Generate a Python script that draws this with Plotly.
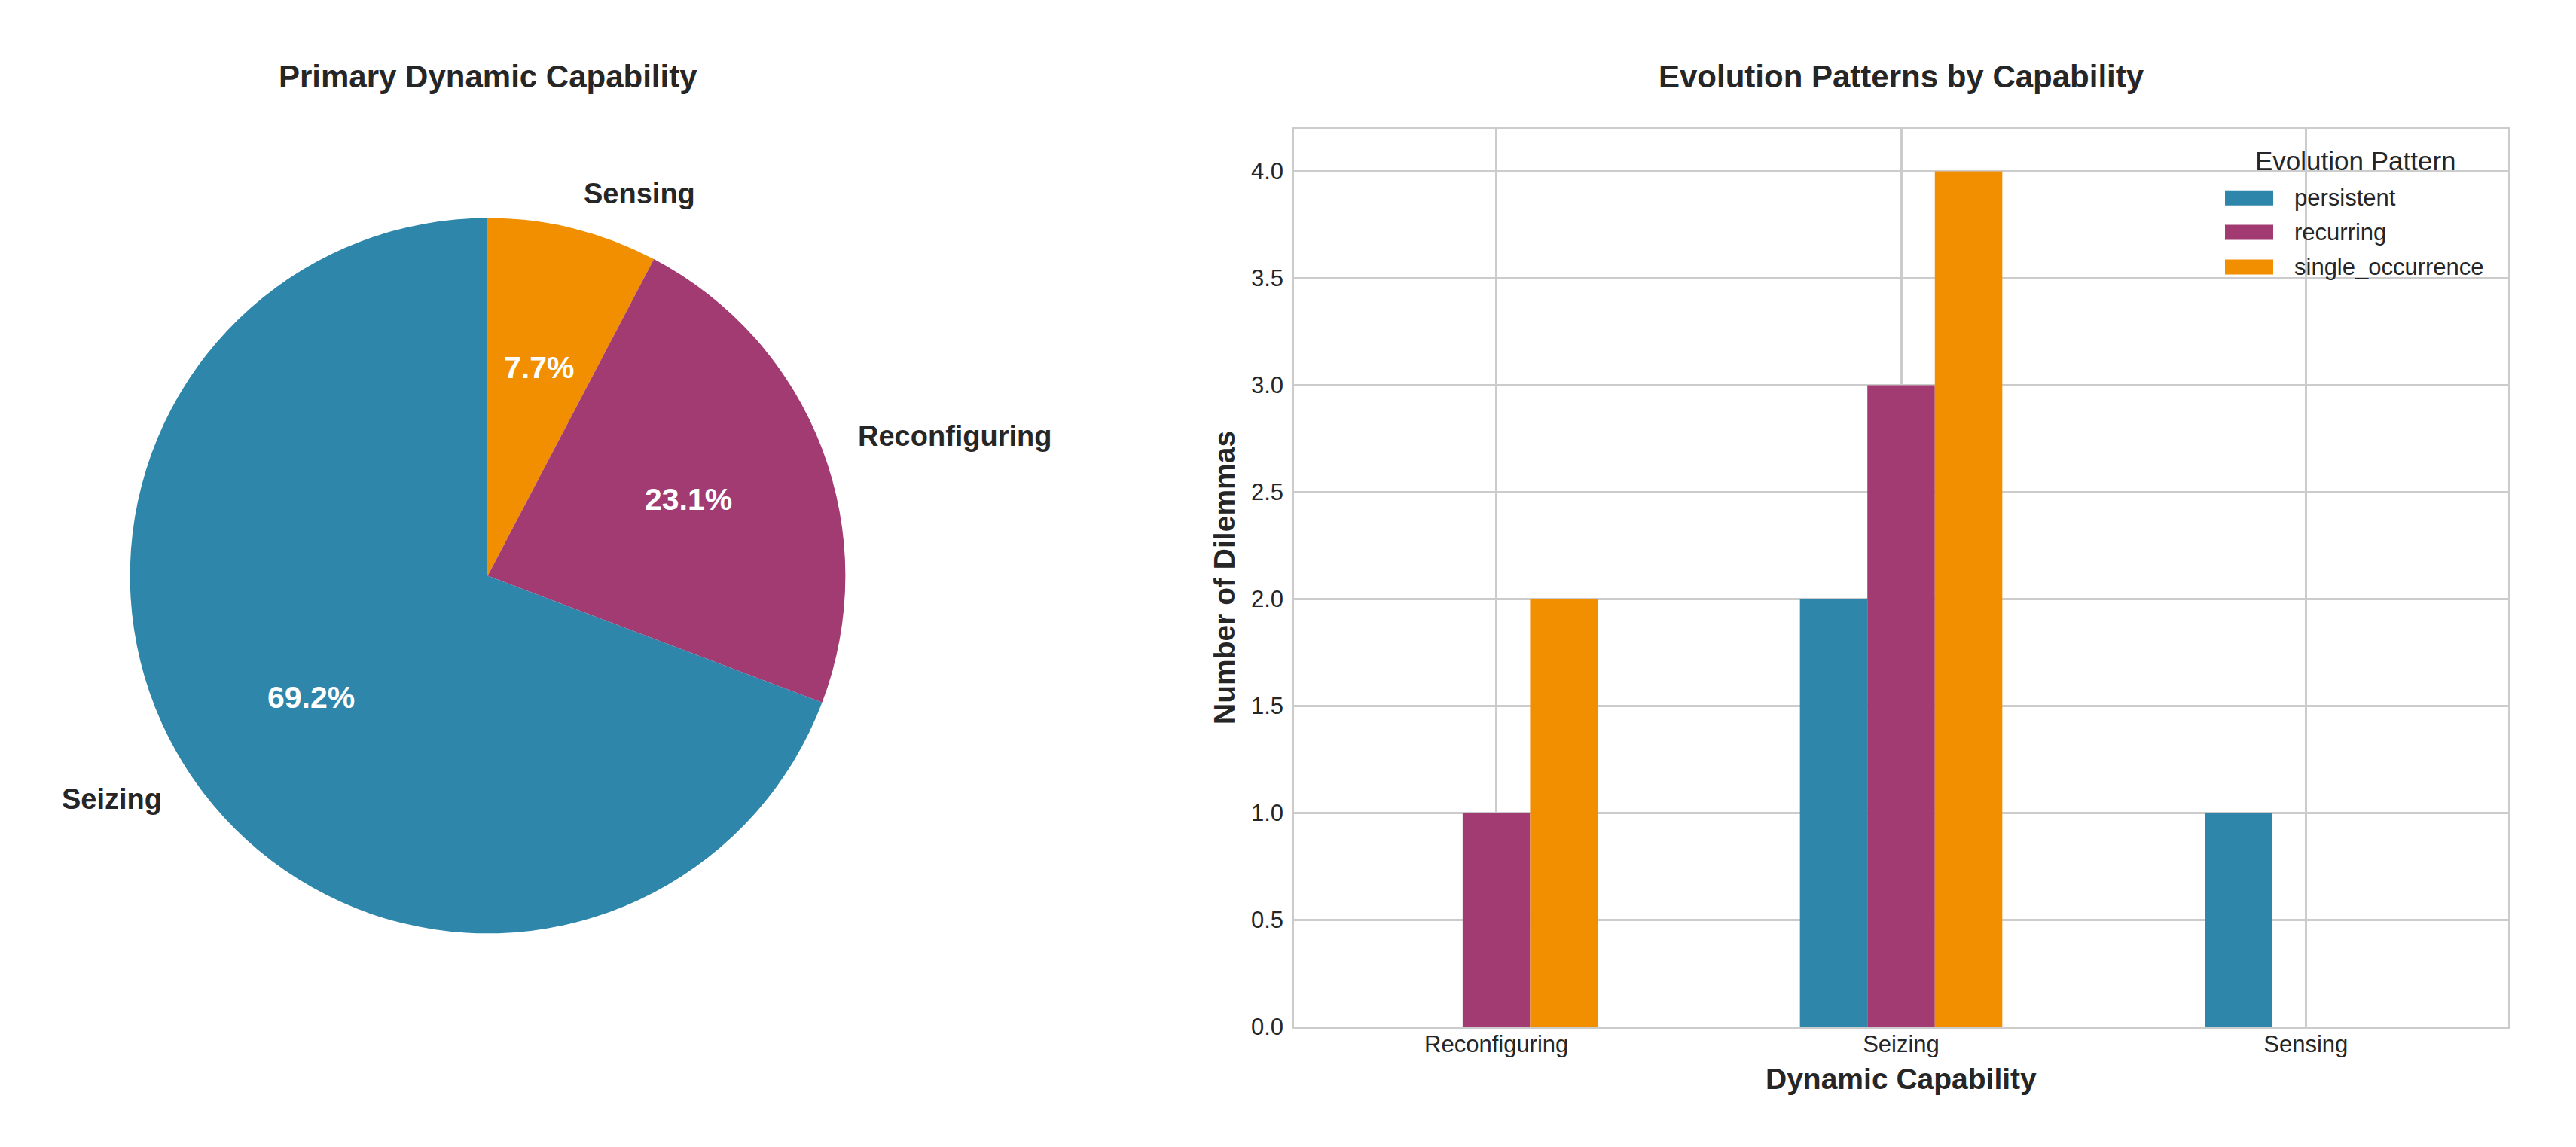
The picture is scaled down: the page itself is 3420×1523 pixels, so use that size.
import math
import plotly.graph_objects as go

# ---------------- data ----------------
pie_labels = ["Seizing", "Reconfiguring", "Sensing"]
pie_values = [9, 3, 1]
pie_colors = ["#2E86AB", "#A23B72", "#F18F01"]

categories = ["Reconfiguring", "Seizing", "Sensing"]
patterns = ["persistent", "recurring", "single_occurrence"]
persistent = [0, 2, 1]
recurring = [1, 3, 0]
single_occurrence = [2, 4, 0]
series_values = [persistent, recurring, single_occurrence]
bar_colors = ["#2E86AB", "#A23B72", "#F18F01"]
y_ticks = [0.0, 0.5, 1.0, 1.5, 2.0, 2.5, 3.0, 3.5, 4.0]

# ---------------- layout constants ----------------
W, H = 3420, 1523
H_EFF = 1507  # effective rendered plot height used for pixel -> paper conversion
FONT = "Liberation Sans, Arial, sans-serif"
TXT = "#262626"
GRID = "#cccccc"

# pie geometry (pixels)
pcx, pcy, pr = 647.5, 765.5, 475.5


def px_x(x):
    return x / W


def px_y(y):
    return 1 - y / H_EFF


fig = go.Figure()

# counter-clockwise from 12 o'clock: Seizing, Reconfiguring, Sensing
# == clockwise from 12 o'clock in reversed order
fig.add_trace(go.Pie(
    labels=pie_labels[::-1], values=pie_values[::-1], sort=False,
    direction="clockwise", rotation=0,
    marker=dict(colors=pie_colors[::-1], line=dict(width=0)),
    textinfo="none", hoverinfo="label+percent", showlegend=False,
    domain=dict(x=[px_x(pcx - pr), px_x(pcx + pr)],
                y=[px_y(pcy + pr), px_y(pcy - pr)]),
))

annotations = []
shapes = []
total = sum(pie_values)
start = 90.0
for lab, v in zip(pie_labels, pie_values):
    span = 360.0 * v / total
    mid = math.radians(start + span / 2)
    start += span
    cx, cy = math.cos(mid), math.sin(mid)
    annotations.append(dict(
        x=px_x(pcx + 0.6 * pr * cx), y=px_y(pcy - 0.6 * pr * cy),
        xref="paper", yref="paper", showarrow=False,
        text="<b>%.1f%%</b>" % (100.0 * v / total),
        font=dict(family=FONT, size=41, color="white"),
        xanchor="center", yanchor="middle"))
    annotations.append(dict(
        x=px_x(pcx + 1.1 * pr * cx), y=px_y(pcy - 1.1 * pr * cy),
        xref="paper", yref="paper", showarrow=False,
        text="<b>%s</b>" % lab,
        font=dict(family=FONT, size=38, color=TXT),
        xanchor="left" if cx > 0 else "right", yanchor="middle"))

for name, vals, col in zip(patterns, series_values, bar_colors):
    fig.add_trace(go.Bar(
        x=categories, y=vals, name=name,
        marker=dict(color=col, line=dict(width=0)),
        xaxis="x", yaxis="y", showlegend=False))

# axes frame in pixels
ax_l, ax_r, ax_t, ax_b = 1718, 3330, 171, 1365

fig.update_layout(
    width=W, height=H,
    margin=dict(l=0, r=0, t=0, b=0),
    paper_bgcolor="white", plot_bgcolor="white",
    font=dict(family=FONT, size=31, color=TXT),
    barmode="group", bargap=0.5, bargroupgap=0,
    showlegend=False,
    xaxis=dict(
        domain=[px_x(ax_l), px_x(ax_r)], anchor="y",
        type="category", range=[-0.5, 2.5],
        showgrid=True, gridcolor=GRID, gridwidth=2.5,
        showline=True, linecolor=GRID, linewidth=2.5, mirror=True,
        ticks="", ticklabelstandoff=-6,
        tickfont=dict(family=FONT, size=31, color=TXT),
        zeroline=False),
    yaxis=dict(
        domain=[px_y(ax_b), px_y(ax_t)], anchor="x",
        range=[0, 4.2], tickvals=y_ticks,
        ticktext=["%.1f" % t for t in y_ticks],
        showgrid=True, gridcolor=GRID, gridwidth=2.5,
        showline=True, linecolor=GRID, linewidth=2.5, mirror=True,
        ticks="outside", ticklen=5, tickcolor="rgba(0,0,0,0)",
        tickfont=dict(family=FONT, size=31, color=TXT),
        zeroline=False),
)

# custom legend (matplotlib-like wide patches)
annotations.append(dict(
    x=px_x(3127), y=px_y(214), xref="paper", yref="paper", showarrow=False,
    text="Evolution Pattern", font=dict(family=FONT, size=35, color=TXT),
    xanchor="center", yanchor="middle"))
row_y = [263, 309, 355]
for name, col, ry in zip(patterns, bar_colors, row_y):
    shapes.append(dict(
        type="rect", xref="paper", yref="paper",
        x0=px_x(2954), x1=px_x(3018), y0=px_y(ry + 10), y1=px_y(ry - 10),
        fillcolor=col, line=dict(width=0)))
    annotations.append(dict(
        x=px_x(3044), y=px_y(ry), xref="paper", yref="paper", showarrow=False,
        text=name, font=dict(family=FONT, size=31, color=TXT),
        xanchor="left", yanchor="middle"))

# titles
annotations.append(dict(
    x=px_x(pcx), y=px_y(102), xref="paper", yref="paper", showarrow=False,
    text="<b>Primary Dynamic Capability</b>",
    font=dict(family=FONT, size=42, color=TXT),
    xanchor="center", yanchor="middle"))
annotations.append(dict(
    x=px_x((ax_l + ax_r) / 2), y=px_y(102), xref="paper", yref="paper",
    showarrow=False, text="<b>Evolution Patterns by Capability</b>",
    font=dict(family=FONT, size=42, color=TXT),
    xanchor="center", yanchor="middle"))
# axis titles
annotations.append(dict(
    x=px_x((ax_l + ax_r) / 2), y=px_y(1434), xref="paper", yref="paper",
    showarrow=False, text="<b>Dynamic Capability</b>",
    font=dict(family=FONT, size=39, color=TXT),
    xanchor="center", yanchor="middle"))
annotations.append(dict(
    x=px_x(1626), y=px_y((ax_t + ax_b) / 2), xref="paper", yref="paper",
    showarrow=False, text="<b>Number of Dilemmas</b>", textangle=-90,
    font=dict(family=FONT, size=39, color=TXT),
    xanchor="center", yanchor="middle"))

fig.update_layout(annotations=annotations, shapes=shapes)

fig.write_html("out.html")
